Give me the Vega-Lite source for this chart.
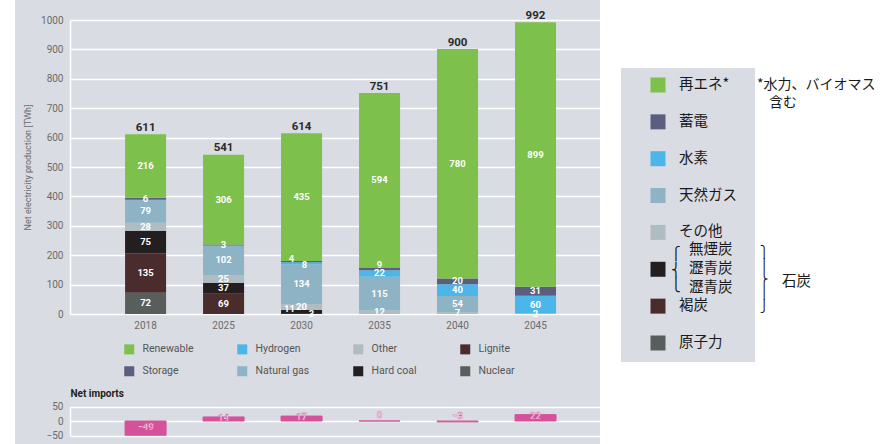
{
  "$schema": "https://vega.github.io/schema/vega-lite/v6.json",
  "padding": {"left": 15, "top": 0, "right": 0, "bottom": 0},
  "background": "white",
  "spacing": 21,
  "config": {"font": "Roboto", "view": {"stroke": null}},
  "resolve": {"scale": {"color": "independent"}, "legend": {"color": "independent"}},
  "datasets": {
    "gen": [
      {"year": "2018", "source": "Nuclear", "value": 72},
      {"year": "2018", "source": "Lignite", "value": 135},
      {"year": "2018", "source": "Hard coal", "value": 75},
      {"year": "2018", "source": "Other", "value": 28},
      {"year": "2018", "source": "Natural gas", "value": 79},
      {"year": "2018", "source": "Storage", "value": 6},
      {"year": "2018", "source": "Renewable", "value": 216},
      {"year": "2025", "source": "Lignite", "value": 69},
      {"year": "2025", "source": "Hard coal", "value": 37},
      {"year": "2025", "source": "Other", "value": 25},
      {"year": "2025", "source": "Natural gas", "value": 102},
      {"year": "2025", "source": "Storage", "value": 3},
      {"year": "2025", "source": "Renewable", "value": 306},
      {"year": "2030", "source": "Lignite", "value": 3},
      {"year": "2030", "source": "Hard coal", "value": 11},
      {"year": "2030", "source": "Other", "value": 20},
      {"year": "2030", "source": "Natural gas", "value": 134},
      {"year": "2030", "source": "Hydrogen", "value": 8},
      {"year": "2030", "source": "Storage", "value": 4},
      {"year": "2030", "source": "Renewable", "value": 435},
      {"year": "2035", "source": "Other", "value": 12},
      {"year": "2035", "source": "Natural gas", "value": 115},
      {"year": "2035", "source": "Hydrogen", "value": 22},
      {"year": "2035", "source": "Storage", "value": 9},
      {"year": "2035", "source": "Renewable", "value": 594},
      {"year": "2040", "source": "Other", "value": 7},
      {"year": "2040", "source": "Natural gas", "value": 54},
      {"year": "2040", "source": "Hydrogen", "value": 40},
      {"year": "2040", "source": "Storage", "value": 20},
      {"year": "2040", "source": "Renewable", "value": 780},
      {"year": "2045", "source": "Natural gas", "value": 2},
      {"year": "2045", "source": "Hydrogen", "value": 60},
      {"year": "2045", "source": "Storage", "value": 31},
      {"year": "2045", "source": "Renewable", "value": 899}
    ],
    "totals": [
      {"year": "2018", "total": 611},
      {"year": "2025", "total": 541},
      {"year": "2030", "total": 614},
      {"year": "2035", "total": 751},
      {"year": "2040", "total": 900},
      {"year": "2045", "total": 992}
    ],
    "imports": [
      {"year": "2018", "net": -49},
      {"year": "2025", "net": 14},
      {"year": "2030", "net": 17},
      {"year": "2035", "net": 0},
      {"year": "2040", "net": -3},
      {"year": "2045", "net": 22}
    ],
    "jp": [
      {"key": "再エネ*", "source": "Renewable"},
      {"key": "蓄電", "source": "Storage"},
      {"key": "水素", "source": "Hydrogen"},
      {"key": "天然ガス", "source": "Natural gas"},
      {"key": "その他", "source": "Other"},
      {"key": "無煙炭\n瀝青炭\n瀝青炭", "source": "Hard coal"},
      {"key": "褐炭", "source": "Lignite"},
      {"key": "原子力", "source": "Nuclear"}
    ]
  },
  "hconcat": [
    {
      "width": 585,
      "height": 444,
      "view": {"fill": "#d9dce2", "stroke": null},
      "resolve": {"scale": {"y": "independent"}, "axis": {"y": "independent"}},
      "layer": [
        {
          "data": {"name": "gen"},
          "transform": [{"window": [{"op": "row_number", "as": "rank"}], "groupby": ["year"]}],
          "mark": {"type": "bar"},
          "encoding": {
            "x": {
              "field": "year", "type": "ordinal",
              "scale": {"type": "band", "range": [55, 585], "paddingInner": 0.474, "paddingOuter": 0.635, "align": 0.556},
              "axis": {"orient": "bottom", "offset": -130, "title": null, "domain": false, "ticks": false, "grid": false, "labelAngle": 0, "labelPadding": 6, "labelFontSize": 10, "labelColor": "#6b6b6b"}
            },
            "y": {
              "field": "value", "type": "quantitative", "stack": "zero",
              "scale": {"domain": [0, 1000], "range": [314, 20], "nice": false},
              "axis": {"orient": "left", "offset": -55, "values": [0, 100, 200, 300, 400, 500, 600, 700, 800, 900, 1000], "format": "d", "grid": true, "gridColor": "white", "gridWidth": 1.5, "gridOpacity": 1, "domain": true, "domainColor": "white", "domainWidth": 1.5, "ticks": false, "labelPadding": 7, "labelFontSize": 10, "labelColor": "#6b6b6b", "title": "Net electricity production [TWh]", "titleFontSize": 9, "titleFontWeight": "normal", "titleColor": "#6b6b6b", "titlePadding": 8}
            },
            "color": {
              "field": "source", "type": "nominal",
              "scale": {
                "domain": ["Renewable", "Storage", "Hydrogen", "Natural gas", "Other", "Hard coal", "Lignite", "Nuclear"],
                "range": ["#7dc04b", "#5b5e7e", "#4db6e8", "#8db3c4", "#afbcc1", "#231f20", "#4b2c2d", "#585e5b"]
              },
              "legend": {
                "orient": "none", "legendX": 109, "legendY": 344, "direction": "horizontal", "columns": 4,
                "values": ["Renewable", "Hydrogen", "Other", "Lignite", "Storage", "Natural gas", "Hard coal", "Nuclear"],
                "symbolType": "square", "symbolSize": 100, "symbolStrokeWidth": 0, "symbolOpacity": 1,
                "labelFontSize": 10.5, "labelColor": "#555555", "labelOffset": 8,
                "columnPadding": 43, "rowPadding": 11, "gridAlign": "each", "padding": 0, "title": null
              }
            },
            "order": {"field": "rank", "type": "quantitative"}
          }
        },
        {
          "data": {"name": "gen"},
          "transform": [{"window": [{"op": "row_number", "as": "rank"}], "groupby": ["year"]}],
          "mark": {
            "type": "text", "fontSize": 9.5, "fontWeight": "bold", "baseline": "middle", "fill": "white",
            "dx": {"expr": "datum.year == '2030' ? (datum.source == 'Lignite' ? 10 : datum.source == 'Hard coal' ? -12 : datum.source == 'Storage' ? -10 : datum.source == 'Hydrogen' ? 3 : 0) : 0"},
            "dy": {"expr": "datum.year == '2030' ? (datum.source == 'Hard coal' ? -3 : datum.source == 'Storage' ? -3 : datum.source == 'Hydrogen' ? 2 : 0) : (datum.year == '2035' && datum.source == 'Storage' ? -4 : 0)"}
          },
          "encoding": {
            "x": {"field": "year", "type": "ordinal"},
            "y": {"field": "value", "type": "quantitative", "stack": "zero", "bandPosition": 0.5, "scale": {"domain": [0, 1000], "range": [314, 20], "nice": false}, "axis": null},
            "detail": {"field": "source"},
            "order": {"field": "rank", "type": "quantitative"},
            "text": {"field": "value", "type": "quantitative"}
          }
        },
        {
          "data": {"name": "totals"},
          "mark": {"type": "text", "fontSize": 11.5, "fontWeight": "bold", "color": "#2a2a2a", "baseline": "alphabetic", "dy": -3.5},
          "encoding": {
            "x": {"field": "year", "type": "ordinal"},
            "y": {"field": "total", "type": "quantitative", "scale": {"domain": [0, 1000], "range": [314, 20], "nice": false}, "axis": null},
            "text": {"field": "total", "type": "quantitative"}
          }
        },
        {
          "data": {"name": "imports"},
          "mark": {"type": "bar", "color": "#d5529b", "stroke": "#d5529b", "strokeWidth": 1},
          "encoding": {
            "x": {"field": "year", "type": "ordinal"},
            "y": {
              "field": "net", "type": "quantitative",
              "scale": {"domain": [-50, 50], "range": [435.5, 406.5], "nice": false},
              "axis": {"orient": "left", "offset": -55, "values": [-50, 0, 50], "format": "d", "grid": true, "gridColor": "white", "gridWidth": 1.5, "gridOpacity": 1, "domain": true, "domainColor": "white", "domainWidth": 1.5, "ticks": false, "labelPadding": 7, "labelFontSize": 10, "labelColor": "#6b6b6b", "title": "Net imports", "titleAngle": 0, "titleAlign": "left", "titleBaseline": "middle", "titleX": 0, "titleY": 393, "titleFontSize": 10, "titleFontWeight": "bold", "titleColor": "#222222"}
            }
          }
        },
        {
          "data": {"name": "imports"},
          "mark": {"type": "text", "fill": "#fbe9f3", "stroke": "#d5529b", "strokeWidth": 0.4, "fontSize": 9.5, "fontWeight": "bold", "baseline": "middle", "dy": {"expr": "datum.net > 0 ? 1 : (datum.net > -10 ? -6 : -8)"}},
          "encoding": {
            "x": {"field": "year", "type": "ordinal"},
            "y": {"field": "net", "type": "quantitative", "scale": {"domain": [-50, 50], "range": [435.5, 406.5], "nice": false}, "axis": null},
            "text": {"field": "net", "type": "quantitative"}
          }
        }
      ]
    },
    {
      "spacing": 0,
      "vconcat": [
        {
          "width": 134,
          "height": 68,
          "data": {"values": []},
          "mark": "point"
        },
        {
          "width": 134,
          "height": 294,
          "view": {"fill": "#d9dce2", "stroke": null},
          "data": {"name": "jp"},
          "layer": [
            {
              "mark": {"type": "square", "size": 225, "filled": true, "opacity": 1},
              "encoding": {
                "x": {"datum": "swatch", "type": "nominal", "scale": {"type": "point", "domain": ["swatch", "label"], "range": [37, 58], "padding": 0}, "axis": null},
                "y": {"field": "key", "type": "nominal", "scale": {"type": "point", "domain": ["再エネ*", "蓄電", "水素", "天然ガス", "その他", "無煙炭\n瀝青炭\n瀝青炭", "褐炭", "原子力"], "range": [17, 275], "padding": 0}, "axis": null},
                "color": {
                  "field": "source", "type": "nominal",
                  "scale": {
                    "domain": ["Renewable", "Storage", "Hydrogen", "Natural gas", "Other", "Hard coal", "Lignite", "Nuclear"],
                    "range": ["#7dc04b", "#5b5e7e", "#4db6e8", "#8db3c4", "#afbcc1", "#231f20", "#4b2c2d", "#585e5b"]
                  },
                  "legend": null
                }
              }
            },
            {
              "mark": {"type": "text", "align": "left", "baseline": "middle", "font": "Noto Sans CJK JP", "fontSize": 14.5, "color": "#1a1a1a", "lineBreak": "\n", "lineHeight": 19, "dx": {"expr": "datum.source == 'Hard coal' ? 10 : 0"}, "dy": {"expr": "datum.source == 'Hard coal' ? -19 : 0"}},
              "encoding": {
                "x": {"datum": "label", "type": "nominal", "axis": null},
                "y": {"field": "key", "type": "nominal", "axis": null},
                "text": {"field": "key", "type": "nominal"}
              }
            },
            {
              "data": {"values": [{"note": "*水力、バイオマス"}]},
              "mark": {"type": "text", "align": "left", "baseline": "middle", "font": "Noto Sans CJK JP", "fontSize": 14, "color": "#1a1a1a", "dx": 78},
              "encoding": {
                "x": {"datum": "label", "type": "nominal", "axis": null},
                "y": {"datum": "再エネ*", "type": "nominal", "axis": null},
                "text": {"field": "note", "type": "nominal"}
              }
            },
            {
              "data": {"values": [{"note": "含む"}]},
              "mark": {"type": "text", "align": "left", "baseline": "middle", "font": "Noto Sans CJK JP", "fontSize": 14, "color": "#1a1a1a", "dx": 90, "dy": 18},
              "encoding": {
                "x": {"datum": "label", "type": "nominal", "axis": null},
                "y": {"datum": "再エネ*", "type": "nominal", "axis": null},
                "text": {"field": "note", "type": "nominal"}
              }
            },
            {
              "data": {"values": [{"note": "⎧\n⎨\n⎩"}]},
              "mark": {"type": "text", "align": "center", "baseline": "middle", "font": "DejaVu Sans", "fontSize": 13, "lineBreak": "\n", "lineHeight": 15.5, "color": "#1a1a1a", "dx": -3, "dy": -15},
              "encoding": {
                "x": {"datum": "label", "type": "nominal", "axis": null},
                "y": {"datum": "無煙炭\n瀝青炭\n瀝青炭", "type": "nominal", "axis": null},
                "text": {"field": "note", "type": "nominal"}
              }
            },
            {
              "data": {"values": [{"note": "⎫\n⎪\n⎬\n⎪\n⎭"}]},
              "mark": {"type": "text", "align": "center", "baseline": "middle", "font": "DejaVu Sans", "fontSize": 11.7, "lineBreak": "\n", "lineHeight": 13.6, "color": "#1a1a1a", "dx": 85, "dy": -17.5},
              "encoding": {
                "x": {"datum": "label", "type": "nominal", "axis": null},
                "y": {"datum": "無煙炭\n瀝青炭\n瀝青炭", "type": "nominal", "axis": null},
                "text": {"field": "note", "type": "nominal"}
              }
            },
            {
              "data": {"values": [{"note": "石炭"}]},
              "mark": {"type": "text", "align": "left", "baseline": "middle", "font": "Noto Sans CJK JP", "fontSize": 14.5, "color": "#1a1a1a", "dx": 103, "dy": 12.7},
              "encoding": {
                "x": {"datum": "label", "type": "nominal", "axis": null},
                "y": {"datum": "無煙炭\n瀝青炭\n瀝青炭", "type": "nominal", "axis": null},
                "text": {"field": "note", "type": "nominal"}
              }
            }
          ]
        }
      ]
    }
  ]
}
